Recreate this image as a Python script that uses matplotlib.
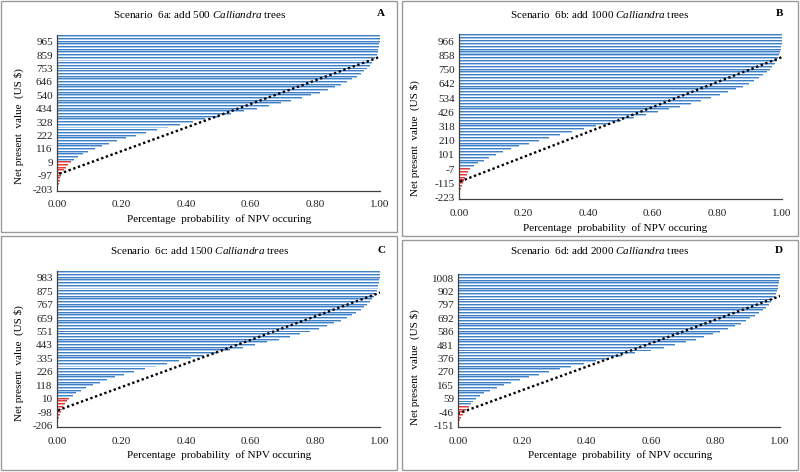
import numpy as np
import matplotlib
matplotlib.use('Agg')
import matplotlib.pyplot as plt
from matplotlib.patches import Rectangle

plt.rcParams['font.family'] = ['Liberation Serif', 'DejaVu Serif']
plt.rcParams['mathtext.fontset'] = 'custom'
plt.rcParams['mathtext.rm'] = 'Liberation Serif'
plt.rcParams['mathtext.it'] = 'Liberation Serif:italic'

# ---------------- data ----------------
titles = [r'Scenario  6a: add 500 $\it{Calliandra}$ trees',
          r'Scenario  6b: add 1000 $\it{Calliandra}$ trees',
          r'Scenario  6c: add 1500 $\it{Calliandra}$ trees',
          r'Scenario  6d: add 2000 $\it{Calliandra}$ trees']
letters = ['A', 'B', 'C', 'D']

npv_labels_a = [-203, -97, 9, 116, 222, 328, 434, 540, 646, 753, 859, 965]
npv_labels_b = [-223, -115, -7, 101, 210, 318, 426, 534, 642, 750, 858, 966]
npv_labels_c = [-206, -98, 10, 118, 226, 335, 443, 551, 659, 767, 875, 983]
npv_labels_d = [-151, -46, 59, 165, 270, 376, 481, 586, 692, 797, 902, 1008]

prob_a = [0.001, 0.003, 0.005, 0.008, 0.010, 0.013, 0.017, 0.022, 0.028, 0.035,
          0.044, 0.054, 0.066, 0.080, 0.097, 0.117, 0.138, 0.160, 0.185, 0.213,
          0.244, 0.276, 0.310, 0.345, 0.382, 0.420, 0.459, 0.500, 0.540, 0.580,
          0.620, 0.657, 0.692, 0.726, 0.757, 0.786, 0.813, 0.838, 0.860, 0.880,
          0.898, 0.914, 0.928, 0.941, 0.952, 0.961, 0.969, 0.976, 0.982, 0.986,
          0.990, 0.993, 0.995, 0.997, 0.998, 0.999, 1.000, 1.000]
prob_b = [0.001, 0.002, 0.004, 0.006, 0.008, 0.011, 0.015, 0.019, 0.024, 0.029,
          0.034, 0.046, 0.060, 0.076, 0.094, 0.114, 0.136, 0.160, 0.187, 0.216,
          0.247, 0.279, 0.313, 0.350, 0.387, 0.424, 0.463, 0.502, 0.541, 0.578,
          0.615, 0.650, 0.685, 0.718, 0.750, 0.780, 0.808, 0.834, 0.857, 0.878,
          0.897, 0.914, 0.929, 0.942, 0.953, 0.962, 0.970, 0.977, 0.983, 0.987,
          0.991, 0.994, 0.996, 0.998, 0.999, 1.000, 1.000, 1.000]
prob_c = [0.001, 0.002, 0.004, 0.006, 0.009, 0.012, 0.016, 0.020, 0.025, 0.031,
          0.038, 0.048, 0.060, 0.074, 0.091, 0.111, 0.132, 0.155, 0.180, 0.208,
          0.239, 0.271, 0.305, 0.341, 0.378, 0.416, 0.455, 0.495, 0.535, 0.575,
          0.614, 0.651, 0.687, 0.721, 0.753, 0.783, 0.810, 0.836, 0.859, 0.879,
          0.897, 0.913, 0.927, 0.940, 0.951, 0.960, 0.968, 0.975, 0.981, 0.986,
          0.990, 0.993, 0.995, 0.997, 0.998, 0.999, 1.000, 1.000]
prob_d = [0.001, 0.003, 0.006, 0.010, 0.014, 0.019, 0.026, 0.033, 0.040, 0.047,
          0.055, 0.067, 0.082, 0.100, 0.120, 0.142, 0.166, 0.192, 0.220, 0.250,
          0.282, 0.316, 0.352, 0.390, 0.430, 0.470, 0.510, 0.550, 0.600, 0.640,
          0.675, 0.708, 0.738, 0.765, 0.791, 0.815, 0.838, 0.860, 0.879, 0.895,
          0.908, 0.922, 0.935, 0.946, 0.956, 0.965, 0.972, 0.978, 0.983, 0.987,
          0.990, 0.993, 0.995, 0.997, 0.998, 0.999, 1.000]

n_loss = [11, 11, 11, 8]   # number of bars with negative NPV (red)
x_ticks = [0.0, 0.2, 0.4, 0.6, 0.8, 1.0]

probs = [prob_a, prob_b, prob_c, prob_d]
npv_labels = [npv_labels_a, npv_labels_b, npv_labels_c, npv_labels_d]

# ---------------- layout (pixels) ----------------
W, H = 800, 472
fig = plt.figure(figsize=(W / 100, H / 100), dpi=100)
fig.patch.set_facecolor('white')

def fx(x):
    return x / W

def fy(y):
    return 1 - y / H

axes_px = [(57, 35, 380, 190.5),
           (459, 34, 782, 199),
           (57, 271, 380, 427),
           (458, 274, 780, 427)]
panel_px = [(1, 1, 397, 232), (402, 1, 798, 236),
            (1, 236, 397, 470), (402, 240, 798, 470)]
title_px = [(200, 15), (600, 15), (200, 251), (600, 251)]
letter_px = [(381, 14), (779, 14), (381, 250), (779, 250)]
xlabel_px = [(219, 219), (615, 228), (219, 455), (620, 455)]
ylabel_px = [(19, 126), (415, 138), (19, 363), (415, 367)]

blue_dark, blue_light = '#3f7fc2', '#a9c9ec'
red_dark, red_light = '#e03c3c', '#f39c9c'

for k in range(4):
    x0, y0, x1, y1 = axes_px[k]
    ax = fig.add_axes([fx(x0), fy(y1), fx(x1 - x0), (y1 - y0) / H])
    p = np.array(probs[k])
    n = len(p)
    idx = np.arange(n)
    loss = idx < n_loss[k]
    cd = np.where(loss, red_dark, blue_dark)
    cl = np.where(loss, red_light, blue_light)
    ax.barh(idx + 0.18, p, height=0.36, color=cd, linewidth=0)
    ax.barh(idx - 0.18, p, height=0.36, color=cl, linewidth=0)

    # linear trendline (least squares of probability on category)
    slope, icpt = np.polyfit(idx, p, 1)
    yy = np.array([0, n - 1])
    ax.plot(slope * yy + icpt, yy, color='black', lw=1.7,
            linestyle=(0, (1, 1.1)), dash_capstyle='butt')

    ax.set_xlim(0, 1)
    ax.set_ylim(-0.5, n - 0.5)
    ax.set_xticks(x_ticks)
    ax.set_xticklabels([f'{v:.2f}' for v in x_ticks])
    ax.set_yticks(np.arange(0, n, 5)[:len(npv_labels[k])])
    ax.set_yticklabels([str(v) for v in npv_labels[k]])
    ax.tick_params(axis='both', length=0, labelsize=8, colors='#222222')
    ax.tick_params(axis='x', pad=7)
    ax.tick_params(axis='y', pad=3)
    for s in ['top', 'right']:
        ax.spines[s].set_visible(False)
    ax.spines['left'].set_color('#404040')
    ax.spines['bottom'].set_color('#404040')
    ax.spines['left'].set_linewidth(0.9)
    ax.spines['bottom'].set_linewidth(0.9)
    ax.set_facecolor('none')

    px0, py0, px1, py1 = panel_px[k]
    fig.add_artist(Rectangle((fx(px0), fy(py1)), fx(px1 - px0), (py1 - py0) / H,
                             transform=fig.transFigure, fill=False,
                             ec='#9a9a9a', lw=1))
    tx, ty = title_px[k]
    fig.text(fx(tx), fy(ty), titles[k], ha='center', va='center', fontsize=8)
    lx, ly = letter_px[k]
    fig.text(fx(lx), fy(ly), letters[k], ha='center', va='center',
             fontsize=8, fontweight='bold')
    xlx, xly = xlabel_px[k]
    fig.text(fx(xlx), fy(xly), 'Percentage  probability  of NPV occuring',
             ha='center', va='center', fontsize=8)
    ylx, yly = ylabel_px[k]
    fig.text(fx(ylx), fy(yly), 'Net present  value  (US $)', ha='center',
             va='center', rotation=90, fontsize=8)

fig.savefig('out.png', dpi=100, facecolor='white')
